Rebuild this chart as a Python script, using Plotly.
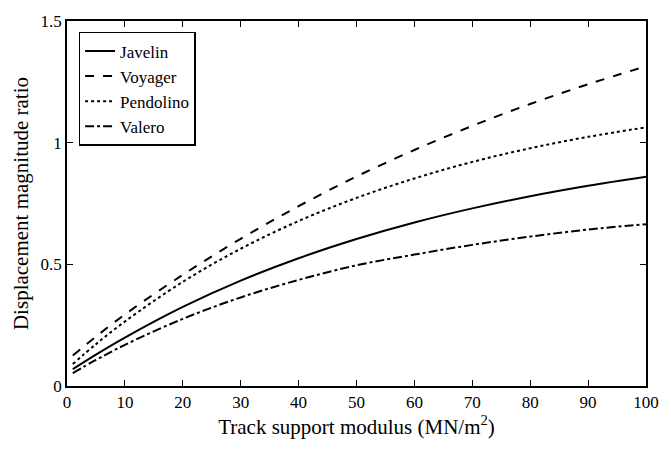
import plotly.graph_objects as go

modulus = [1, 5, 10, 20, 30, 40, 50, 60, 70, 80, 90, 100]
javelin = [0.069, 0.129, 0.199, 0.325, 0.433, 0.525, 0.604, 0.672, 0.730, 0.780, 0.823, 0.860]
voyager = [0.125, 0.203, 0.294, 0.457, 0.605, 0.739, 0.861, 0.970, 1.069, 1.159, 1.240, 1.314]
pendolino = [0.090, 0.172, 0.265, 0.428, 0.564, 0.678, 0.773, 0.853, 0.921, 0.977, 1.024, 1.063]
valero = [0.053, 0.107, 0.169, 0.276, 0.364, 0.436, 0.496, 0.540, 0.580, 0.614, 0.643, 0.665]

x_ticks = [0, 10, 20, 30, 40, 50, 60, 70, 80, 90, 100]
y_ticks = [0, 0.5, 1, 1.5]
y_tick_labels = ["0", "0.5", "1", "1.5"]

series = [
    ("Javelin", javelin, "solid"),
    ("Voyager", voyager, "dash"),
    ("Pendolino", pendolino, "dot"),
    ("Valero", valero, "dashdot"),
]

fig = go.Figure()
for name, vals, dash in series:
    fig.add_trace(go.Scatter(
        x=modulus, y=vals, mode="lines", name=name,
        line=dict(color="black", width=2, dash=dash, shape="spline"),
    ))

font_family = "serif"
tick_font = dict(family="serif", size=17, color="black")
axis_common = dict(
    showline=True, linecolor="black", linewidth=1.5, mirror="ticks",
    ticks="inside", ticklen=6, tickwidth=1.3, tickcolor="black",
    showgrid=False, zeroline=False,
)

fig.update_layout(
    width=671, height=451,
    margin=dict(l=67, r=14, t=17, b=65),
    paper_bgcolor="white", plot_bgcolor="white",
    font=dict(family=font_family, size=17, color="black"),
    showlegend=True,
    legend=dict(
        x=0.02, y=0.97, xanchor="left", yanchor="top",
        bordercolor="black", borderwidth=1.5, bgcolor="white",
        font=dict(family="serif", size=17, color="black"),
        tracegroupgap=0, itemwidth=30,
    ),
    xaxis=dict(
        range=[0, 100], tickvals=x_ticks, tickfont=tick_font,
        title=dict(text="Track support modulus (MN/m<sup>2</sup>)",
                   font=dict(family=font_family, size=21, color="black"), standoff=8),
        **axis_common,
    ),
    yaxis=dict(
        range=[0, 1.5], tickvals=y_ticks, ticktext=y_tick_labels, tickfont=tick_font,
        title=dict(text="Displacement magnitude ratio",
                   font=dict(family=font_family, size=21, color="black"), standoff=6),
        **axis_common,
    ),
)

fig.write_html("out.html")
